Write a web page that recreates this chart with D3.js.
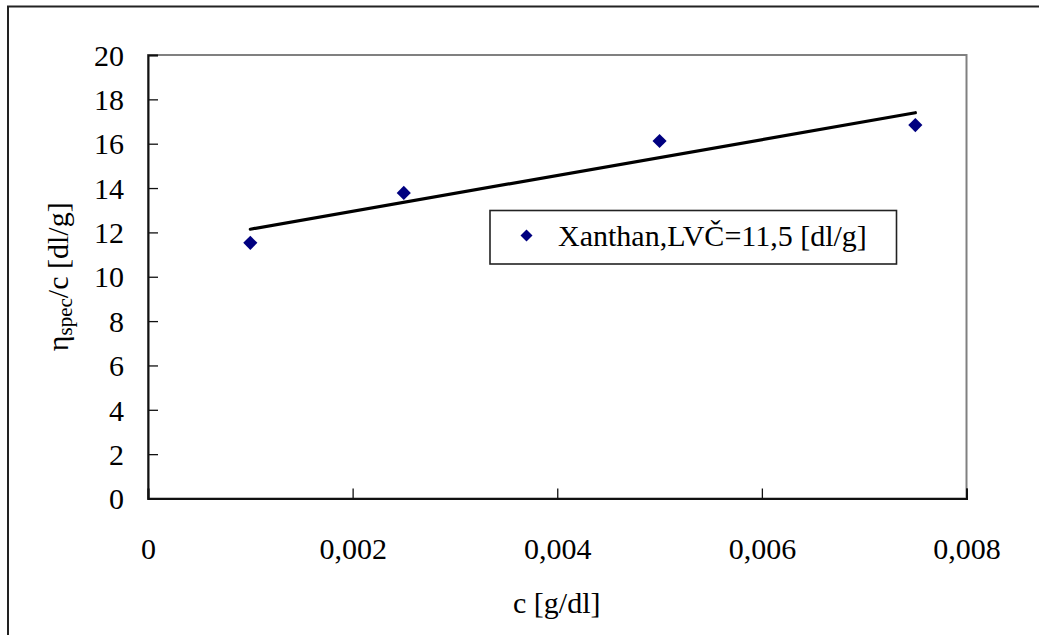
<!DOCTYPE html>
<html>
<head>
<meta charset="utf-8">
<script src="https://cdn.jsdelivr.net/npm/d3@7"></script>
<style>
  html, body { margin: 0; padding: 0; background: #fff; }
  svg { display: block; }
</style>
</head>
<body>
<svg id="chart" width="1039" height="635"></svg>
<script>
// ---- data ----
const concentrations = [0.001, 0.0025, 0.005, 0.0075];
const viscosities = [11.53, 13.78, 16.12, 16.84];
const xTicks = [0, 0.002, 0.004, 0.006, 0.008];
const xTickLabels = ["0", "0,002", "0,004", "0,006", "0,008"];
const yTicks = [0, 2, 4, 6, 8, 10, 12, 14, 16, 18, 20];
const seriesName = "Xanthan,LVČ=11,5 [dl/g]";
const xTitle = "c [g/dl]";

// ---- layout ----
const svg = d3.select("#chart");
const FONT = "'Liberation Serif', 'Times New Roman', serif";
const plot = { left: 148, top: 55, right: 966.5, bottom: 498.5 };

const x = d3.scaleLinear().domain([0, 0.008]).range([plot.left, plot.right]);
const y = d3.scaleLinear().domain([0, 20]).range([plot.bottom, plot.top]);

// outer chart border
svg.append("rect")
  .attr("x", 8).attr("y", 6.5).attr("width", 1060).attr("height", 660)
  .attr("fill", "#fff").attr("stroke", "#222").attr("stroke-width", 2);

// plot area border (gray)
svg.append("rect")
  .attr("x", plot.left).attr("y", plot.top)
  .attr("width", plot.right - plot.left).attr("height", plot.bottom - plot.top)
  .attr("fill", "none").attr("stroke", "#808080").attr("stroke-width", 2);

// axes
const xAxis = d3.axisBottom(x).tickValues(xTicks).tickSize(-10)
  .tickFormat((d, i) => xTickLabels[i]).tickPadding(0);
const yAxis = d3.axisLeft(y).tickValues(yTicks).tickSize(-10)
  .tickFormat(d3.format("d")).tickPadding(0);

const gx = svg.append("g").attr("transform", `translate(0,${plot.bottom})`).call(xAxis);
const gy = svg.append("g").attr("transform", `translate(${plot.left},0)`).call(yAxis);

[gx, gy].forEach(g => {
  g.select(".domain").attr("stroke", "#111").attr("stroke-width", 2);
  g.selectAll(".tick line").attr("stroke", "#111").attr("stroke-width", 1.3);
  g.selectAll(".tick text").attr("font-family", FONT).attr("font-size", 30).attr("fill", "#000");
});
// x labels below
gx.selectAll(".tick text").attr("y", 0).attr("dy", 0)
  .attr("transform", "translate(0,60)");
// y labels left, right-aligned
gy.selectAll(".tick text").attr("x", -24).attr("dy", "0.34em");

// trendline (least squares linear fit)
const mx = d3.mean(concentrations), my = d3.mean(viscosities);
const sxy = d3.sum(concentrations, (c, i) => (c - mx) * (viscosities[i] - my));
const sxx = d3.sum(concentrations, c => (c - mx) * (c - mx));
const slope = sxy / sxx, intercept = my - slope * mx;
const xs = d3.extent(concentrations);
svg.append("line")
  .attr("x1", x(xs[0])).attr("y1", y(intercept + slope * xs[0]))
  .attr("x2", x(xs[1])).attr("y2", y(intercept + slope * xs[1]))
  .attr("stroke", "#000").attr("stroke-width", 3.2).attr("stroke-linecap", "round");

// points (diamonds)
const diamond = d3.symbol().type(d3.symbolSquare).size(100);
svg.append("g").selectAll("path")
  .data(concentrations.map((c, i) => [c, viscosities[i]]))
  .join("path")
  .attr("d", diamond)
  .attr("transform", d => `translate(${x(d[0])},${y(d[1])}) rotate(45)`)
  .attr("fill", "#000080");

// legend
const lg = svg.append("g");
lg.append("rect").attr("x", 490).attr("y", 210.5).attr("width", 406.5).attr("height", 53.5)
  .attr("fill", "#fff").attr("stroke", "#222").attr("stroke-width", 1.6);
lg.append("path").attr("d", d3.symbol().type(d3.symbolSquare).size(72))
  .attr("transform", "translate(526.5,235.5) rotate(45)").attr("fill", "#000080");
lg.append("text").attr("x", 558).attr("y", 245.5)
  .attr("font-family", FONT).attr("font-size", 30).attr("fill", "#000")
  .text(seriesName);

// x title
svg.append("text").attr("x", (plot.left + plot.right) / 2 - 0.5).attr("y", 613)
  .attr("text-anchor", "middle").attr("font-family", FONT).attr("font-size", 30)
  .text(xTitle);

// y title
const yt = svg.append("text")
  .attr("transform", `translate(68,${(plot.top + plot.bottom) / 2}) rotate(-90)`)
  .attr("text-anchor", "middle").attr("font-family", FONT).attr("font-size", 30);
yt.append("tspan").text("η");
yt.append("tspan").attr("font-size", 21).attr("dy", 4).text("spec");
yt.append("tspan").attr("dy", -4).text("/c [dl/g]");
</script>
</body>
</html>
